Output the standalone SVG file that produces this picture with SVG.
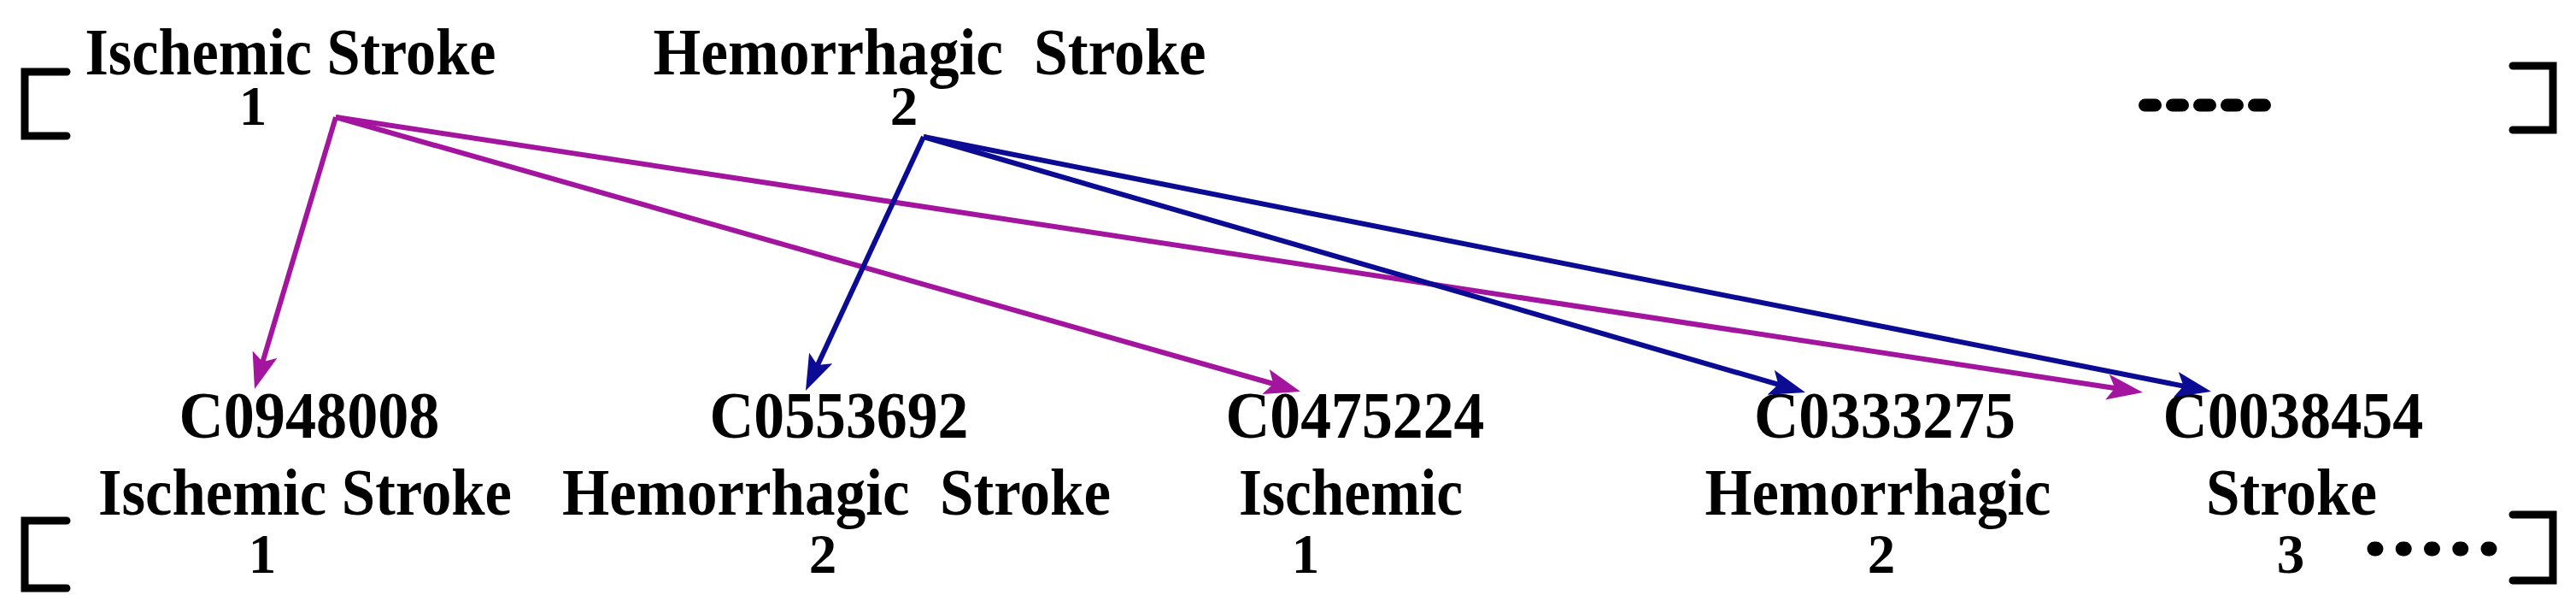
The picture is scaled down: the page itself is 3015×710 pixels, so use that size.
<svg xmlns="http://www.w3.org/2000/svg" width="3015" height="710" viewBox="0 0 3015 710">
<style>
  text { font-family: "Liberation Serif", "Times New Roman", serif; font-weight: bold; fill: #000; text-anchor: middle; white-space: pre; }
  .name { font-size: 78px; }
  .id { font-size: 78px; }
  .num { font-size: 65px; }
  .bracket { fill: none; stroke: #000; stroke-width: 9; stroke-linecap: round; stroke-linejoin: miter; }
  .mag { fill: none; stroke: #A3159E; stroke-width: 6; }
  .blu { fill: none; stroke: #0B0B94; stroke-width: 6; }
</style>
<defs>
  <marker id="ahM" markerUnits="userSpaceOnUse" markerWidth="42" markerHeight="30" refX="22" refY="15" orient="auto">
    <path d="M0,0 L42,15 L0,30 L9,15 z" fill="#A3159E"/>
  </marker>
  <marker id="ahB" markerUnits="userSpaceOnUse" markerWidth="42" markerHeight="30" refX="22" refY="15" orient="auto">
    <path d="M0,0 L42,15 L0,30 L9,15 z" fill="#0B0B94"/>
  </marker>
</defs>
<rect width="3015" height="710" fill="#fff"/>

<g id="top-list">
  <path class="bracket" d="M78 84 H29 V159 H78"/>
  <path class="bracket" d="M2941 77 H2988 V152 H2941"/>
  <line x1="2510.5" y1="123" x2="2651" y2="123" stroke="#000" stroke-width="15" stroke-linecap="round" stroke-dasharray="12 20"/>
</g>

<g id="src-ischemic">
  <text class="name" x="340" y="87" textLength="481" lengthAdjust="spacingAndGlyphs">Ischemic Stroke</text>
  <text class="num" x="296" y="146">1</text>
</g>
<g id="src-hemorrhagic">
  <text class="name" x="1088" y="87" textLength="647" lengthAdjust="spacingAndGlyphs" xml:space="preserve">Hemorrhagic  Stroke</text>
  <text class="num" x="1058" y="146">2</text>
</g>

<g id="bottom-list">
  <path class="bracket" d="M78 609 H29 V688 H78"/>
  <path class="bracket" d="M2941 602 H2988 V679 H2941"/>
  <line x1="2779" y1="642" x2="2914" y2="642" stroke="#000" stroke-width="17" stroke-linecap="round" stroke-dasharray="2 31.25"/>
</g>

<g id="C0948008">
  <text class="id" x="362" y="512" textLength="305" lengthAdjust="spacingAndGlyphs">C0948008</text>
  <text class="name" x="357" y="602" textLength="484" lengthAdjust="spacingAndGlyphs">Ischemic Stroke</text>
  <text class="num" x="307" y="670">1</text>
</g>
<g id="C0553692">
  <text class="id" x="982" y="512" textLength="303" lengthAdjust="spacingAndGlyphs">C0553692</text>
  <text class="name" x="979" y="602" textLength="642" lengthAdjust="spacingAndGlyphs" xml:space="preserve">Hemorrhagic  Stroke</text>
  <text class="num" x="963" y="670">2</text>
</g>
<g id="C0475224">
  <text class="id" x="1586" y="512" textLength="303" lengthAdjust="spacingAndGlyphs">C0475224</text>
  <text class="name" x="1581" y="602" textLength="262" lengthAdjust="spacingAndGlyphs">Ischemic</text>
  <text class="num" x="1528" y="670">1</text>
</g>
<g id="C0333275">
  <text class="id" x="2206" y="512" textLength="306" lengthAdjust="spacingAndGlyphs">C0333275</text>
  <text class="name" x="2198" y="602" textLength="405" lengthAdjust="spacingAndGlyphs">Hemorrhagic</text>
  <text class="num" x="2202" y="670">2</text>
</g>
<g id="C0038454">
  <text class="id" x="2684" y="512" textLength="305" lengthAdjust="spacingAndGlyphs">C0038454</text>
  <text class="name" x="2682" y="602" textLength="200" lengthAdjust="spacingAndGlyphs">Stroke</text>
  <text class="num" x="2681" y="670">3</text>
</g>

<g id="connectors">
  <line class="mag" x1="393" y1="137" x2="303.7" y2="435.8" marker-end="url(#ahM)"/>
  <line class="mag" x1="393" y1="137" x2="1502.8" y2="452.5" marker-end="url(#ahM)"/>
  <line class="mag" x1="393" y1="137" x2="2488.2" y2="456" marker-end="url(#ahM)"/>
  <line class="blu" x1="1081" y1="160" x2="951.4" y2="438.9" marker-end="url(#ahB)"/>
  <line class="blu" x1="1081" y1="160" x2="2093.8" y2="453.4" marker-end="url(#ahB)"/>
  <line class="blu" x1="1081" y1="160" x2="2568.4" y2="454.1" marker-end="url(#ahB)"/>
</g>
</svg>
